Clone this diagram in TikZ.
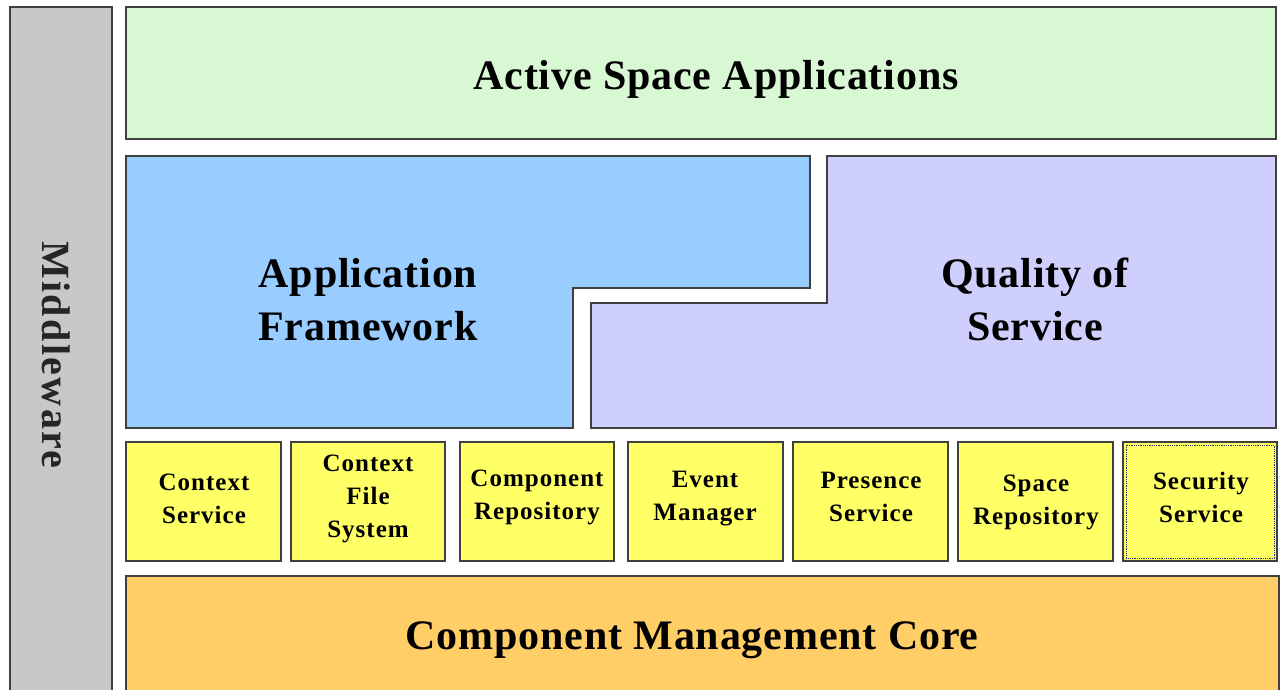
\documentclass[tikz,border=0pt]{standalone}
\usepackage{fontspec}
\setmainfont{Liberation Serif}
\definecolor{edge}{HTML}{404040}
\definecolor{mwgray}{HTML}{C8C8C8}
\definecolor{appgreen}{HTML}{D8F8D4}
\definecolor{fwblue}{HTML}{99CCFF}
\definecolor{qoslav}{HTML}{CFCFFD}
\definecolor{svcyellow}{HTML}{FFFF66}
\definecolor{coreorange}{HTML}{FFCE66}
\definecolor{mwtext}{HTML}{262626}
\tikzset{
  layer/.style={draw=edge, line width=1.3pt},
  bigtitle/.style={font=\fontsize{42}{53}\selectfont\bfseries\addfontfeature{LetterSpace=2}, align=center, inner sep=0pt},
  svclabel/.style={font=\fontsize{25}{33}\selectfont\bfseries\addfontfeature{LetterSpace=4}, align=center, inner sep=0pt},
  svcbox/.style={layer, fill=svcyellow}
}
\begin{document}
\begin{tikzpicture}[x=1pt,y=-1pt]
\useasboundingbox (0,0) rectangle (1283,689);
\clip (0,0) rectangle (1283,689);

% vertical middleware bar
\draw[layer, fill=mwgray] (10,7) rectangle (112,700);
\node[font=\fontsize{40}{44}\selectfont\bfseries\addfontfeature{LetterSpace=6}, text=mwtext, rotate=-90, inner sep=0pt] (mw) at (56,355) {Middleware};

% applications layer
\draw[layer, fill=appgreen] (126,7) rectangle (1276,139);
\node[bigtitle] (apps) at (716,79) {Active Space Applications};

% application framework (L-shaped)
\draw[layer, fill=fwblue] (126,156) -- (810,156) -- (810,288) -- (573,288) -- (573,428) -- (126,428) -- cycle;
\node[bigtitle] (fw) at (368,300) {Application\\Framework};

% quality of service (L-shaped)
\draw[layer, fill=qoslav] (827,156) -- (1276,156) -- (1276,428) -- (591,428) -- (591,303) -- (827,303) -- cycle;
\node[bigtitle] (qos) at (1035,299) {Quality of\\Service};

% service boxes
\draw[svcbox] (126,442) rectangle (281,561);
\draw[svcbox] (291,442) rectangle (445,561);
\draw[svcbox] (460,442) rectangle (614,561);
\draw[svcbox] (628,442) rectangle (783,561);
\draw[svcbox] (793,442) rectangle (948,561);
\draw[svcbox] (958,442) rectangle (1113,561);
\draw[svcbox] (1123,442) rectangle (1277,561);
\draw[draw=edge!70!blue, densely dotted, line width=0.8pt] (1126,445) rectangle (1274,558);

\node[svclabel] (ctx) at (204,499) {Context\\Service};
\node[svclabel] (cfs) at (368,499) {Context\\File\\System};
\node[svclabel] (crep) at (537,497) {Component\\Repository};
\node[svclabel] (evm) at (705,499) {Event\\Manager};
\node[svclabel] (pres) at (871,497) {Presence\\Service};
\node[svclabel] (srep) at (1036,502) {Space\\Repository};
\node[svclabel] (sec) at (1201,497) {Security\\Service};

% component management core
\draw[layer, fill=coreorange] (126,576) rectangle (1279,700);
\node[bigtitle] (core) at (692,640) {Component Management Core};
\end{tikzpicture}
\end{document}
